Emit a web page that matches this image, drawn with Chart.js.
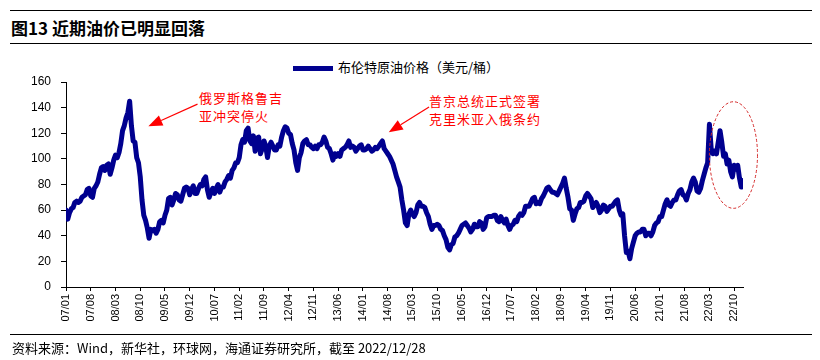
<!DOCTYPE html>
<html>
<head>
<meta charset="utf-8">
<script src="https://cdn.jsdelivr.net/npm/chart.js@4.4.1/dist/chart.umd.min.js"></script>
<style>
  body { margin: 0; width: 820px; height: 360px; background: #fff; position: relative; overflow: hidden;
         font-family: "Noto Sans CJK SC", "Liberation Sans", sans-serif; }
  #chart { position: absolute; left: 0; top: 0; }
  .rule { position: absolute; left: 10px; width: 802px; border-top: 1.5px solid #000; }
  #title { position: absolute; left: 11px; top: 15px; font-size: 17px; font-weight: bold; color: #000; }
  #legend { position: absolute; left: 293px; top: 57px; font-size: 13px; color: #000; }
  #legend i { display: inline-block; width: 40px; height: 5px; background: #00008f; vertical-align: middle; margin-right: 5px; }
  .note { position: absolute; color: #ff0000; font-size: 13px; line-height: 18px; letter-spacing: 1px; }
  #source { position: absolute; left: 12px; top: 338px; font-size: 13px; color: #000; }
</style>
</head>
<body>
<div class="rule" style="top:10px"></div>
<div id="title">图13 近期油价已明显回落</div>
<div class="rule" style="top:43px"></div>
<div id="legend"><i></i>布伦特原油价格（美元/桶）</div>
<div class="note" style="left:199px;top:89px">俄罗斯格鲁吉<br>亚冲突停火</div>
<div class="note" style="left:429px;top:92px">普京总统正式签署<br>克里米亚入俄条约</div>
<canvas id="chart" width="820" height="360"></canvas>
<div class="rule" style="top:334px"></div>
<div id="source">资料来源：Wind，新华社，环球网，海通证券研究所，截至 2022/12/28</div>

<script>
// 布伦特原油价格，每半月一个读数（美元/桶）
const brent2007 = [60,53, 58,61, 62,66, 67,66, 67,70, 71,72, 76,77, 71,70, 77,79, 82,88, 93,94, 91,95];
const brent2008 = [96,88, 93,99, 103,101, 105,112, 122,126, 132,136, 145,126, 114,113, 101,97, 86,68, 56,52, 46,38];
const brent2009 = [45,44, 45,42, 45,51, 52,50, 56,60, 69,70, 64,68, 73,72, 68,67, 72,77, 78,77, 72,76];
const brent2010 = [79,73, 73,77, 80,79, 84,86, 76,70, 74,77, 73,77, 80,74, 78,78, 82,84, 87,85, 91,93];
const brent2011 = [97,97, 101,111, 115,113, 122,124, 114,112, 118,106, 116,117, 104,108, 114,110, 101,110, 113,110, 107,107];
const brent2012 = [111,110, 117,122, 125,124, 120,119, 112,107, 97,91, 101,105, 112,114, 115,111, 111,109, 108,110, 108,111];
const brent2013 = [111,113, 117,114, 109,108, 104,99, 104,102, 104,102, 107,108, 109,111, 114,109, 110,109, 106,108, 110,111];
const brent2014 = [107,107, 108,110, 108,106, 107,109, 108,110, 112,114, 108,106, 104,102, 99,96, 91,86, 82,78, 68,60];
const brent2015 = [50,48, 57,60, 57,55, 58,64, 66,63, 63,62, 58,55, 49,45, 48,48, 49,48, 45,44, 40,37];
const brent2016 = [31,29, 33,34, 39,40, 42,45, 48,49, 50,48, 46,43, 45,49, 47,47, 51,50, 45,47, 54,55];
const brent2017 = [55,55, 56,56, 52,51, 55,52, 50,53, 48,45, 48,49, 52,51, 55,57, 56,58, 63,63, 63,66];
const brent2018 = [69,70, 65,66, 65,69, 71,74, 77,78, 76,74, 74,73, 72,75, 78,81, 85,77, 70,61, 60,52];
const brent2019 = [57,61, 62,66, 66,67, 71,73, 71,69, 62,64, 66,63, 58,60, 64,63, 59,61, 63,63, 65,67];
const brent2020 = [68,60, 56,57, 40,27, 28,22, 30,35, 40,42, 43,43, 45,45, 40,42, 42,40, 43,48, 50,51];
const brent2021 = [55,55, 60,65, 68,64, 63,66, 68,68, 72,75, 76,72, 71,68, 73,76, 82,85, 82,75, 74,77];
const brent2022 = [83,88, 93,97, 127,108, 104,106, 104,113, 122,113, 102,104, 96,99, 90,86, 95,92, 95,85, 78,83];

const tickLabels = ["07/01","07/08","08/03","08/10","09/05","09/12","10/07","11/02","11/09","12/04",
  "12/11","13/06","14/01","14/08","15/03","15/10","16/05","16/12","17/07","18/02","18/09","19/04",
  "19/11","20/06","21/01","21/08","22/03","22/10"];

// 注释：箭头和椭圆（数据坐标：月份序号, 价格）
const arrows = [
  { from: [37.2, 142.7], to: [23.3, 125.5] },
  { from: [102.7, 140.4], to: [91.3, 120.8] }
];
const ring = { center: [188.8, 103], rx: 6.8, ry: 41.6 };

const prices = [].concat(brent2007, brent2008, brent2009, brent2010, brent2011, brent2012, brent2013,
  brent2014, brent2015, brent2016, brent2017, brent2018, brent2019, brent2020, brent2021, brent2022);
const points = prices.map((v, i) => ({ x: i * 0.5, y: v }));

function monthIndex(label) {
  const [yy, mm] = label.split("/").map(Number);
  return (yy - 7) * 12 + (mm - 1);
}
const labelAt = {};
tickLabels.forEach(l => labelAt[monthIndex(l)] = l);

const annotPlugin = {
  id: "annot",
  afterDatasetsDraw(chart) {
    const { ctx, scales: { x, y } } = chart;
    ctx.save();
    ctx.strokeStyle = "#ff0000";
    ctx.fillStyle = "#ff0000";
    ctx.lineWidth = 1.2;
    arrows.forEach(a => {
      const x0 = x.getPixelForValue(a.from[0]), y0 = y.getPixelForValue(a.from[1]);
      const x1 = x.getPixelForValue(a.to[0]), y1 = y.getPixelForValue(a.to[1]);
      const ang = Math.atan2(y1 - y0, x1 - x0);
      const hl = 14, hw = 5.5;
      const bx = x1 - hl * Math.cos(ang), by = y1 - hl * Math.sin(ang);
      ctx.beginPath();
      ctx.moveTo(x0, y0);
      ctx.lineTo(bx, by);
      ctx.stroke();
      ctx.beginPath();
      ctx.moveTo(x1, y1);
      ctx.lineTo(bx + hw * Math.sin(ang), by - hw * Math.cos(ang));
      ctx.lineTo(bx - hw * Math.sin(ang), by + hw * Math.cos(ang));
      ctx.closePath();
      ctx.fill();
    });
    const cx = x.getPixelForValue(ring.center[0]), cy = y.getPixelForValue(ring.center[1]);
    const rx = Math.abs(x.getPixelForValue(ring.center[0] + ring.rx) - cx);
    const ry = Math.abs(y.getPixelForValue(ring.center[1] + ring.ry) - cy);
    ctx.strokeStyle = "#d42a2a";
    ctx.lineWidth = 1;
    ctx.setLineDash([3, 2]);
    ctx.beginPath();
    ctx.ellipse(cx, cy, rx, ry, 0, 0, Math.PI * 2);
    ctx.stroke();
    ctx.restore();
  }
};

new Chart(document.getElementById("chart"), {
  type: "line",
  data: {
    datasets: [{
      label: "布伦特原油价格（美元/桶）",
      data: points,
      borderColor: "#00008f",
      backgroundColor: "#00008f",
      borderWidth: 5,
      borderJoinStyle: "round",
      borderCapStyle: "round",
      pointRadius: 0,
      tension: 0
    }]
  },
  options: {
    responsive: false,
    animation: false,
    devicePixelRatio: 1,
    layout: { padding: { top: 82, right: 77, left: 0, bottom: 0 } },
    plugins: { legend: { display: false }, tooltip: { enabled: false } },
    scales: {
      x: {
        type: "linear",
        min: 0,
        max: 191.5,
        afterBuildTicks: s => { s.ticks = tickLabels.map(l => ({ value: monthIndex(l) })); },
        afterFit: s => { s.height = 73; },
        ticks: {
          autoSkip: false,
          maxRotation: 90,
          minRotation: 90,
          padding: 3,
          color: "#000",
          font: { family: "Liberation Sans", size: 11 },
          callback: v => labelAt[v] || ""
        },
        grid: { drawOnChartArea: false, drawTicks: true, tickLength: 4, color: "#000" },
        border: { color: "#000", width: 1 }
      },
      y: {
        min: 0,
        max: 160,
        afterFit: s => { s.width = 66; },
        ticks: { stepSize: 20, padding: 10, color: "#000", font: { family: "Liberation Sans", size: 12 } },
        grid: { drawOnChartArea: false, drawTicks: true, tickLength: 5, color: "#000" },
        border: { color: "#000", width: 1 }
      }
    }
  },
  plugins: [annotPlugin]
});
</script>
</body>
</html>
